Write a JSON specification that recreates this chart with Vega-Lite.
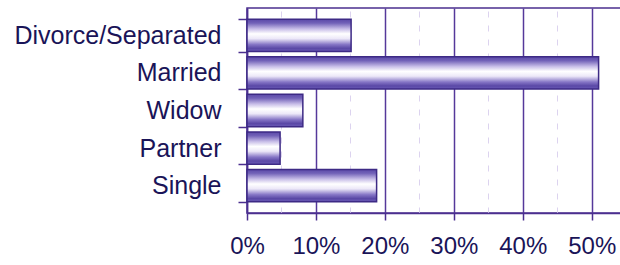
{
  "$schema": "https://vega.github.io/schema/vega-lite/v6.json",
  "width": 374,
  "height": 205,
  "autosize": {"type": "none"},
  "padding": {"left": 247, "top": 8, "right": 0, "bottom": 52},
  "background": "white",
  "config": {
    "view": {"stroke": "#4b2f8f", "strokeWidth": 1.5},
    "font": "Liberation Sans"
  },
  "data": {
    "values": [
      {"status": "Divorce/Separated", "share": 0.151},
      {"status": "Married", "share": 0.51},
      {"status": "Widow", "share": 0.081},
      {"status": "Partner", "share": 0.048},
      {"status": "Single", "share": 0.188}
    ]
  },
  "mark": {
    "type": "bar",
    "stroke": "#3d2a85",
    "strokeWidth": 1.5,
    "color": {
      "gradient": "linear",
      "x1": 0, "y1": 0, "x2": 0, "y2": 1,
      "stops": [
        {"offset": 0, "color": "#5a48a8"},
        {"offset": 0.12, "color": "#7262b8"},
        {"offset": 0.3, "color": "#c8bee8"},
        {"offset": 0.45, "color": "#ffffff"},
        {"offset": 0.6, "color": "#ece8f8"},
        {"offset": 0.78, "color": "#8676c6"},
        {"offset": 0.9, "color": "#5a48a6"},
        {"offset": 1, "color": "#6a5ab6"}
      ]
    }
  },
  "encoding": {
    "y": {
      "field": "status",
      "type": "nominal",
      "sort": ["Divorce/Separated", "Married", "Widow", "Partner", "Single"],
      "scale": {"paddingInner": 0.14, "paddingOuter": 0.3},
      "axis": {
        "title": null,
        "domainColor": "#4b2f8f",
        "domainWidth": 1.5,
        "tickBand": "extent",
        "tickColor": "#4b2f8f",
        "tickWidth": 1.5,
        "tickSize": 9,
        "labelFontSize": 25,
        "labelLimit": 400,
        "labelColor": "#1a1458",
        "labelPadding": 17,
        "grid": false
      }
    },
    "x": {
      "field": "share",
      "type": "quantitative",
      "scale": {"domain": [0, 0.5425], "nice": false},
      "axis": {
        "title": null,
        "values": [0, 0.05, 0.1, 0.15, 0.2, 0.25, 0.3, 0.35, 0.4, 0.45, 0.5],
        "format": ".0%",
        "labelExpr": "round(datum.value*100) % 10 == 0 ? datum.label : ''",
        "labelFontSize": 24,
        "labelColor": "#1a1458",
        "labelPadding": 14,
        "labelFlush": false,
        "domainColor": "#4b2f8f",
        "domainWidth": 1.5,
        "tickColor": "#4b2f8f",
        "tickWidth": 1.5,
        "tickSize": 7,
        "tickOpacity": {"condition": {"test": "round(datum.value*100) % 10 != 0", "value": 0}, "value": 1},
        "grid": true,
        "gridColor": {"condition": {"test": "round(datum.value*100) % 10 != 0", "value": "#dcd3ef"}, "value": "#55389a"},
        "gridWidth": {"condition": {"test": "round(datum.value*100) % 10 != 0", "value": 1}, "value": 1.5},
        "gridDash": {"condition": {"test": "round(datum.value*100) % 10 != 0", "value": [6, 8]}, "value": []}
      }
    }
  }
}
